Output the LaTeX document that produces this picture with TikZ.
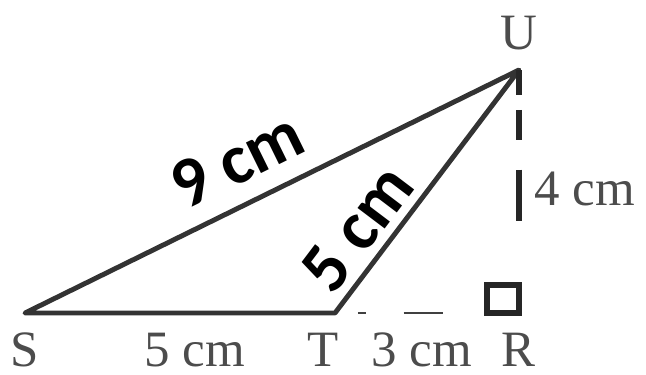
\documentclass[tikz,border=0pt]{standalone}
\usepackage{fontspec}
\setmainfont{Liberation Serif}
\newfontfamily\lenfont{Carlito}
\usetikzlibrary{positioning}

\begin{document}
\begin{tikzpicture}[x=0.02cm,y=-0.02cm,
side/.style={draw=black!80,line width=2.8pt,line join=round},
lbl/.style={anchor=base,text=black!70,font=\fontsize{29}{29}\selectfont,inner sep=0pt},
len/.style={font=\lenfont\bfseries\fontsize{40}{40}\selectfont,inner sep=0pt}]
\useasboundingbox (0,0) rectangle (646,375);
\coordinate (S) at (25,313);
\coordinate (T) at (335,313);
\coordinate (R) at (519,313);
\coordinate (U) at (519,70);
\draw[side] (S)--(U)--(T)--cycle;
\draw[line width=1.4pt,black!75,dash pattern=on 0pt off 13pt on 4.5pt off 21.5pt on 22.7pt off 60pt] (T)--(R);
\draw[line width=3.8pt,black!85,dash pattern=on 14.2pt off 8.5pt on 17pt off 17pt on 29.5pt off 60pt] (U)--(R);
\draw[line width=3pt,black!85] (R)--++(-32,0)--++(0,-28)--++(32,0)--cycle;
\node[lbl] (labS) at (25,366) {S};
\node[lbl] (labT) at (323,366) {T};
\node[lbl] (labR) at (518,366) {R};
\node[lbl] (labU) at (519,50) {U};
\node[lbl] (labST) at (195,366) {5 cm};
\node[lbl] (labTR) at (422,366) {3 cm};
\node[lbl] (labRU) at (585,205) {4 cm};
\node[len,rotate=26.2] (labSU) at (237,160) {9 cm};
\node[len,rotate=52.9] (labTU) at (357,228) {5 cm};
\end{tikzpicture}
\end{document}
